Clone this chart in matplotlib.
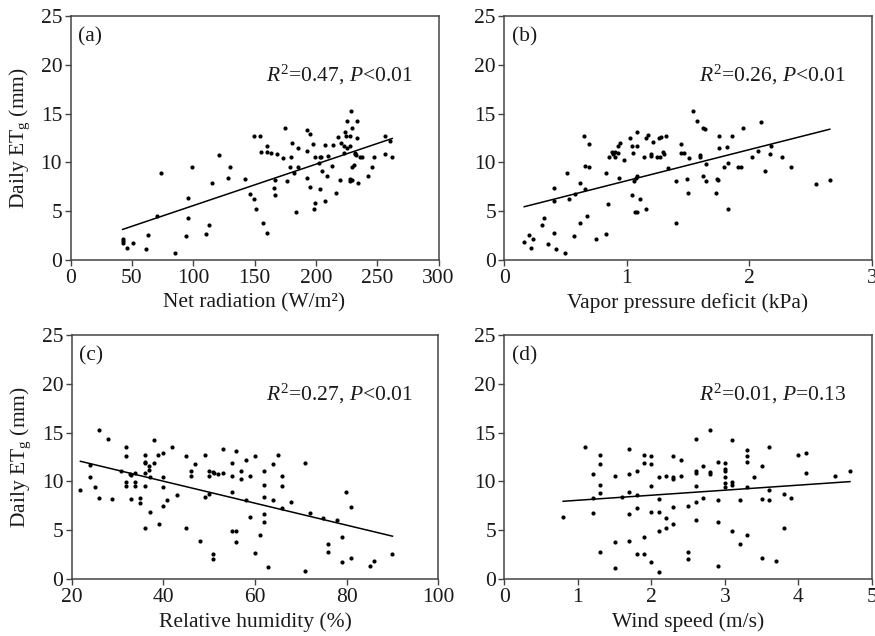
import numpy as np
import matplotlib
matplotlib.use("Agg")
import matplotlib.pyplot as plt

plt.rcParams['font.family'] = ['Liberation Serif', 'DejaVu Serif']
plt.rcParams['mathtext.fontset'] = 'custom'
plt.rcParams['mathtext.rm'] = 'Liberation Serif'
plt.rcParams['mathtext.it'] = 'Liberation Serif:italic'

# (a) net radiation (W/m2) vs daily ETg (mm)
rn_x = [42.5, 42.5, 43.0, 45.7, 50.6, 61.5, 63.1, 70.9, 73.4, 85.3, 93.9, 96.1, 96.1, 99.1,
        110.2, 112.6, 115.3, 121.0, 128.3, 129.9, 142.4, 146.7, 149.2, 149.2, 151.3, 154.3,
        155.7, 157.0, 160.0, 160.5, 160.5, 163.2, 165.7, 166.8, 167.0, 168.7, 173.3, 174.6,
        176.8, 178.7, 179.5, 180.3, 182.2, 183.5, 185.2, 185.7, 192.5, 192.5, 192.7, 195.4,
        195.4, 197.9, 198.2, 199.2, 199.2, 202.2, 203.0, 203.6, 204.1, 205.2, 207.4, 207.4,
        209.5, 210.1, 212.8, 213.6, 216.3, 217.9, 219.5, 220.6, 222.8, 223.3, 224.1, 224.4,
        225.0, 225.8, 227.7, 227.7, 227.9, 228.2, 228.7, 229.6, 229.8, 229.8, 230.9, 231.7,
        232.3, 232.5, 233.4, 233.9, 234.2, 236.1, 238.0, 242.8, 245.5, 247.4, 256.1, 256.1,
        260.4, 262.3]
rn_y = [2.21, 2.01, 1.74, 1.29, 1.80, 1.16, 2.59, 4.49, 8.88, 0.78, 2.52, 6.36, 4.32, 9.49,
        2.65, 3.64, 7.86, 10.75, 8.44, 9.56, 8.30, 6.73, 6.26, 12.69, 5.24, 12.69,
        11.02, 3.78, 2.76, 11.70, 11.02, 10.95, 7.35, 6.67, 8.16, 10.88, 10.44, 13.50,
        8.10, 9.49, 10.54, 11.94, 8.88, 4.90, 11.53, 9.56, 13.30, 11.16, 8.37, 12.86,
        7.52, 11.84, 5.24, 5.82, 10.51, 9.90, 10.58, 7.24, 10.58, 9.12, 6.02, 11.77,
        8.64, 10.71, 9.63, 11.80, 6.90, 12.59, 8.16, 11.94, 11.67, 10.95, 13.13, 12.69,
        11.53, 14.25, 12.69, 11.67, 8.33, 8.10, 15.31, 13.50, 8.20, 9.56, 9.76, 10.92,
        10.88, 10.78, 12.52, 14.22, 7.86, 10.51, 10.51, 8.61, 9.56, 10.51, 12.69, 10.82,
        12.18, 10.51]

# (b) vapor pressure deficit (kPa)
vpd_x = [0.163, 0.199, 0.218, 0.237, 0.308, 0.322, 0.360, 0.406, 0.406, 0.406, 0.422, 0.496,
         0.512, 0.529, 0.569, 0.575, 0.619, 0.619, 0.651, 0.659, 0.659, 0.676, 0.692, 0.695,
         0.749, 0.828, 0.834, 0.850, 0.856, 0.877, 0.891, 0.902, 0.905, 0.926, 0.932, 0.940,
         0.946, 0.978, 1.027, 1.041, 1.046, 1.054, 1.057, 1.063, 1.074, 1.082, 1.082, 1.084,
         1.087, 1.104, 1.139, 1.155, 1.155, 1.169, 1.196, 1.196, 1.210, 1.248, 1.259, 1.272,
         1.281, 1.292, 1.300, 1.319, 1.335, 1.401, 1.403, 1.444, 1.444, 1.471, 1.490, 1.499,
         1.507, 1.537, 1.572, 1.594, 1.599, 1.621, 1.621, 1.638, 1.643, 1.643, 1.730, 1.736,
         1.744, 1.749, 1.749, 1.790, 1.815, 1.823, 1.823, 1.856, 1.907, 1.932, 1.946, 2.019,
         2.071, 2.095, 2.128, 2.166, 2.180, 2.270, 2.341, 2.545, 2.657]
vpd_y = [1.84, 2.59, 1.29, 2.18, 3.61, 4.32, 1.70, 7.41, 6.02, 2.76, 1.19, 0.78,
         8.88, 6.26, 2.45, 6.73, 7.86, 3.78, 12.69, 9.63, 7.24, 4.49, 11.84, 9.56,
         2.14, 8.88, 2.65, 5.78, 10.51, 11.09, 10.88, 11.09, 10.51, 11.73, 10.95, 8.44,
         11.94, 10.24, 12.55, 6.67, 11.73, 10.95, 8.10, 4.93, 8.44, 4.90, 11.73, 8.64,
         13.13, 6.29, 10.51, 5.24, 12.55, 12.79, 10.88, 10.71, 12.14, 10.51, 12.55, 10.51,
         12.65, 11.09, 10.85, 12.69, 9.46, 3.84, 8.10, 11.90, 10.92, 10.92, 8.30, 6.84,
         10.41, 15.31, 14.25, 10.75, 10.61, 8.64, 13.54, 13.37, 9.83, 8.10, 6.84, 8.33,
         8.16, 12.69, 11.50, 9.56, 11.60, 5.24, 9.90, 12.69, 9.49, 9.56, 13.54, 10.51,
         11.16, 14.15, 9.12, 10.85, 11.73, 10.58, 9.56, 7.82, 8.16]

# (c) relative humidity (%)
rh_x = [21.9, 23.9, 23.9, 25.0, 25.9, 25.9, 27.9, 28.9, 30.8, 31.9, 31.9, 31.9, 31.9, 32.8,
        33.0, 33.0, 33.9, 33.9, 33.9, 34.9, 34.9, 35.9, 35.9, 35.9, 35.9, 35.9, 35.9, 36.9,
        36.9, 37.0, 37.0, 37.9, 37.9, 38.8, 39.0, 39.9, 39.9, 39.9, 39.9, 40.9, 41.9, 42.9,
        45.0, 45.0, 46.0, 46.0, 46.9, 48.0, 49.0, 49.0, 49.9, 49.9, 50.0, 50.8, 50.9, 50.9,
        51.0, 51.9, 53.0, 53.0, 54.9, 54.9, 54.9, 54.9, 55.9, 55.9, 55.9, 57.0, 57.0, 58.0,
        58.0, 59.0, 59.0, 59.9, 59.9, 61.0, 61.9, 61.9, 61.9, 61.9, 61.9, 62.9, 63.9, 63.9,
        65.0, 65.9, 65.9, 65.9, 67.9, 71.0, 71.0, 71.9, 74.9, 75.9, 75.9, 77.9, 78.9, 78.9,
        79.9, 81.0, 81.0, 85.0, 85.9, 89.9]
rh_y = [9.13, 11.65, 10.46, 9.47, 15.30, 8.35, 14.31, 8.18, 11.04, 13.53, 12.61, 9.95, 9.54, 10.80,
        8.21, 10.66, 10.90, 9.91, 9.54, 8.35, 7.84, 12.71, 12.03, 11.86, 10.87, 9.57, 5.25, 11.55,
        11.18, 10.49, 6.88, 14.21, 11.86, 12.71, 5.66, 12.88, 10.49, 9.47, 7.53, 8.11, 13.53, 8.62,
        12.61, 5.25, 11.07, 10.53, 11.75, 3.92, 12.71, 8.45, 11.04, 10.53, 8.72, 10.97, 2.59, 2.11,
        10.90, 10.80, 13.32, 10.90, 11.89, 10.53, 8.93, 4.94, 13.15, 4.94, 3.78, 11.07, 10.29, 12.20,
        8.14, 10.56, 6.37, 12.61, 2.66, 4.53, 11.04, 9.68, 8.42, 6.71, 5.83, 1.23, 11.82, 8.11,
        12.71, 10.53, 9.57, 7.29, 7.90, 11.89, 0.82, 6.78, 6.30, 3.65, 2.79, 6.03, 4.36, 1.74,
        8.89, 7.39, 2.18, 1.33, 1.84, 2.62]

# (d) wind speed (m/s)
ws_x = [0.8, 1.1, 1.2, 1.2, 1.2, 1.3, 1.3, 1.3, 1.3, 1.3, 1.5, 1.5, 1.5, 1.6, 1.7, 1.7, 1.7,
        1.7, 1.7, 1.8, 1.8, 1.8, 1.8, 1.9, 1.9, 1.9, 1.9, 2.0, 2.0, 2.0, 2.0, 2.0, 2.1, 2.1,
        2.1, 2.1, 2.1, 2.2, 2.2, 2.2, 2.3, 2.3, 2.3, 2.3, 2.3, 2.4, 2.4, 2.5, 2.5, 2.5, 2.6,
        2.6, 2.6, 2.6, 2.6, 2.6, 2.7, 2.7, 2.8, 2.8, 2.8, 2.9, 2.9, 2.9, 2.9, 3.0, 3.0, 3.0,
        3.0, 3.0, 3.0, 3.1, 3.1, 3.1, 3.1, 3.2, 3.2, 3.3, 3.3, 3.3, 3.3, 3.3, 3.4, 3.5, 3.5,
        3.5, 3.6, 3.6, 3.6, 3.7, 3.8, 3.8, 3.9, 4.0, 4.1, 4.1, 4.5, 4.7]
ws_y = [6.37, 13.53, 10.73, 6.78, 8.35, 12.71, 11.79, 9.64, 8.86, 2.79, 10.56, 3.78, 1.19, 8.45,
        13.36, 10.80, 8.96, 6.71, 3.92, 11.04, 8.65, 7.26, 2.56, 12.71, 11.86, 4.36, 2.59,
        12.61, 11.79, 9.54, 6.92, 1.74, 10.49, 8.21, 6.92, 4.94, 0.78, 10.53, 6.24, 5.21,
        12.61, 10.49, 10.26, 7.39, 5.62, 12.16, 10.60, 7.53, 2.76, 2.11, 14.31, 11.07, 10.90,
        9.57, 7.87, 6.03, 11.58, 8.35, 15.30, 10.97, 10.80, 11.96, 8.11, 5.83, 1.33, 11.86,
        11.24, 11.11, 10.46, 9.85, 9.47, 14.21, 9.95, 9.61, 4.91, 8.11, 3.65, 13.19, 12.64,
        11.96, 9.47, 4.53, 10.49, 11.62, 8.21, 2.15, 13.56, 9.16, 8.11, 1.84, 8.69, 5.25, 8.35,
        12.71, 12.88, 10.83, 10.56, 11.04]

# fitted lines: intercept, slope, x range
fit_a = (1.36, 0.0423, 42.5, 262.3)
fit_b = (4.96, 3.176, 0.163, 2.657)
fit_c = (14.52, -0.1124, 21.9, 90.0)
fit_d = (7.56, 0.515, 0.8, 4.7)

panels = [
    ("(a)", rn_x, rn_y, fit_a, "Net radiation (W/m²)", (0, 300), [0, 50, 100, 150, 200, 250, 300],
     r"$R^{\mathrm{2}}$=0.47, $P$<0.01", True),
    ("(b)", vpd_x, vpd_y, fit_b, "Vapor pressure deficit (kPa)", (0, 3), [0, 1, 2, 3],
     r"$R^{\mathrm{2}}$=0.26, $P$<0.01", False),
    ("(c)", rh_x, rh_y, fit_c, "Relative humidity (%)", (20, 100), [20, 40, 60, 80, 100],
     r"$R^{\mathrm{2}}$=0.27, $P$<0.01", True),
    ("(d)", ws_x, ws_y, fit_d, "Wind speed (m/s)", (0, 5), [0, 1, 2, 3, 4, 5],
     r"$R^{\mathrm{2}}$=0.01, $P$=0.13", False),
]

W, H = 875, 636
fig = plt.figure(figsize=(W / 100, H / 100), dpi=100)
rects = [
    (70.5 / W, 0.5907, 368 / W, 0.3846),
    (504.3 / W, 0.5907, 367.5 / W, 0.3846),
    (71.7 / W, 0.0892, 366.6 / W, 0.3846),
    (504.3 / W, 0.0892, 367.7 / W, 0.3846),
]

spine_col = '#444444'
for rect, (tag, xs, ys, fit, xlabel, xlim, xticks, stat, show_ylabel) in zip(rects, panels):
    ax = fig.add_axes(rect)
    ax.plot(xs, ys, linestyle='none', marker='o', ms=3.0, color='black', mec='black', mew=0)
    a, b, x0, x1 = fit
    fx = np.array([x0, x1])
    ax.plot(fx, a + b * fx, color='black', lw=1.1)

    ax.set_xlim(*xlim)
    ax.set_ylim(0, 25)
    ax.set_xticks(xticks)
    ax.set_yticks([0, 5, 10, 15, 20, 25])
    ax.tick_params(direction='out', length=4, width=1, colors=spine_col,
                   labelcolor='#1a1a1a', labelsize=15.5, pad=2)
    for s in ax.spines.values():
        s.set_color(spine_col)
        s.set_linewidth(1.1)
    ax.set_xlabel(xlabel, fontsize=15.5, color='#1a1a1a', labelpad=4)
    if show_ylabel:
        ax.set_ylabel(r"Daily ET$_{\mathrm{g}}$ (mm)", fontsize=15.5, color='#1a1a1a', labelpad=6)
    ax.text(0.02, 0.915, tag, transform=ax.transAxes, fontsize=15.5, va='center', ha='left',
            color='#1a1a1a')
    ax.text(0.93, 0.758, stat, transform=ax.transAxes, fontsize=15.5, va='center', ha='right',
            color='#1a1a1a')

fig.savefig('out.png', dpi=100)
